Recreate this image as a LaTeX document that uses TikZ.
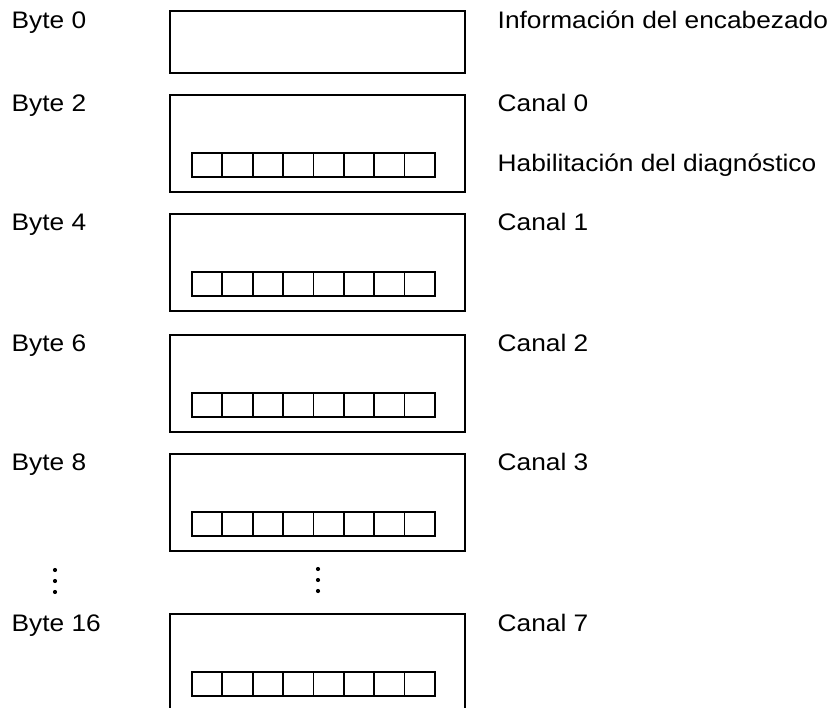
\documentclass[tikz,border=0pt]{standalone}
\usepackage{fontspec}
\setmainfont{Liberation Sans}[FakeStretch=1.1]
\begin{document}
\begin{tikzpicture}[x=1pt,y=-1pt,
  lbl/.style={anchor=base west,inner sep=0pt,font=\fontsize{23.9}{28}\selectfont},
  regbox/.style={draw,line width=2pt,inner sep=0pt,anchor=north west,minimum width=295.5pt},
  cellbox/.style={draw,line width=1.8pt,inner sep=0pt,anchor=north west,minimum width=30.375pt,minimum height=24pt},
  dotmark/.style={fill,circle,inner sep=0pt,minimum size=4.2pt}]
\useasboundingbox (0,0) rectangle (838,708);
% header box
\node[regbox,minimum height=62pt] (b0) at (168.5,10) {};
\node[lbl] (l0) at (11.5,29) {Byte 0};
\node[lbl] (r0) at (497.5,29) {Información del encabezado};
% channel boxes
\foreach \n/\top/\bl/\byte/\can in {2/94/111.5/Byte 2/Canal 0,4/213/230.5/Byte 4/Canal 1,6/334/351.5/Byte 6/Canal 2,8/453/470.5/Byte 8/Canal 3,16/613/631/Byte 16/Canal 7}{
  \node[regbox,minimum height=97pt] (b\n) at (168.5,\top) {};
  \node[lbl] (l\n) at (11.5,\bl) {\byte};
  \node[lbl] (r\n) at (497.5,\bl) {\can};
  \foreach \k in {0,...,7}{
    \node[cellbox] (c\n-\k) at ({191+\k*30.375},{\top+58}) {};
  }
}
\node[lbl] (hab) at (497.5,171.5) {Habilitación del diagnóstico};
% ellipsis dots
\foreach \i/\yy in {1/570,2/581,3/592}{
  \node[dotmark] (dl\i) at (55,\yy) {};
  \node[dotmark] (dm\i) at (318,{\yy-1}) {};
}
\end{tikzpicture}
\end{document}
